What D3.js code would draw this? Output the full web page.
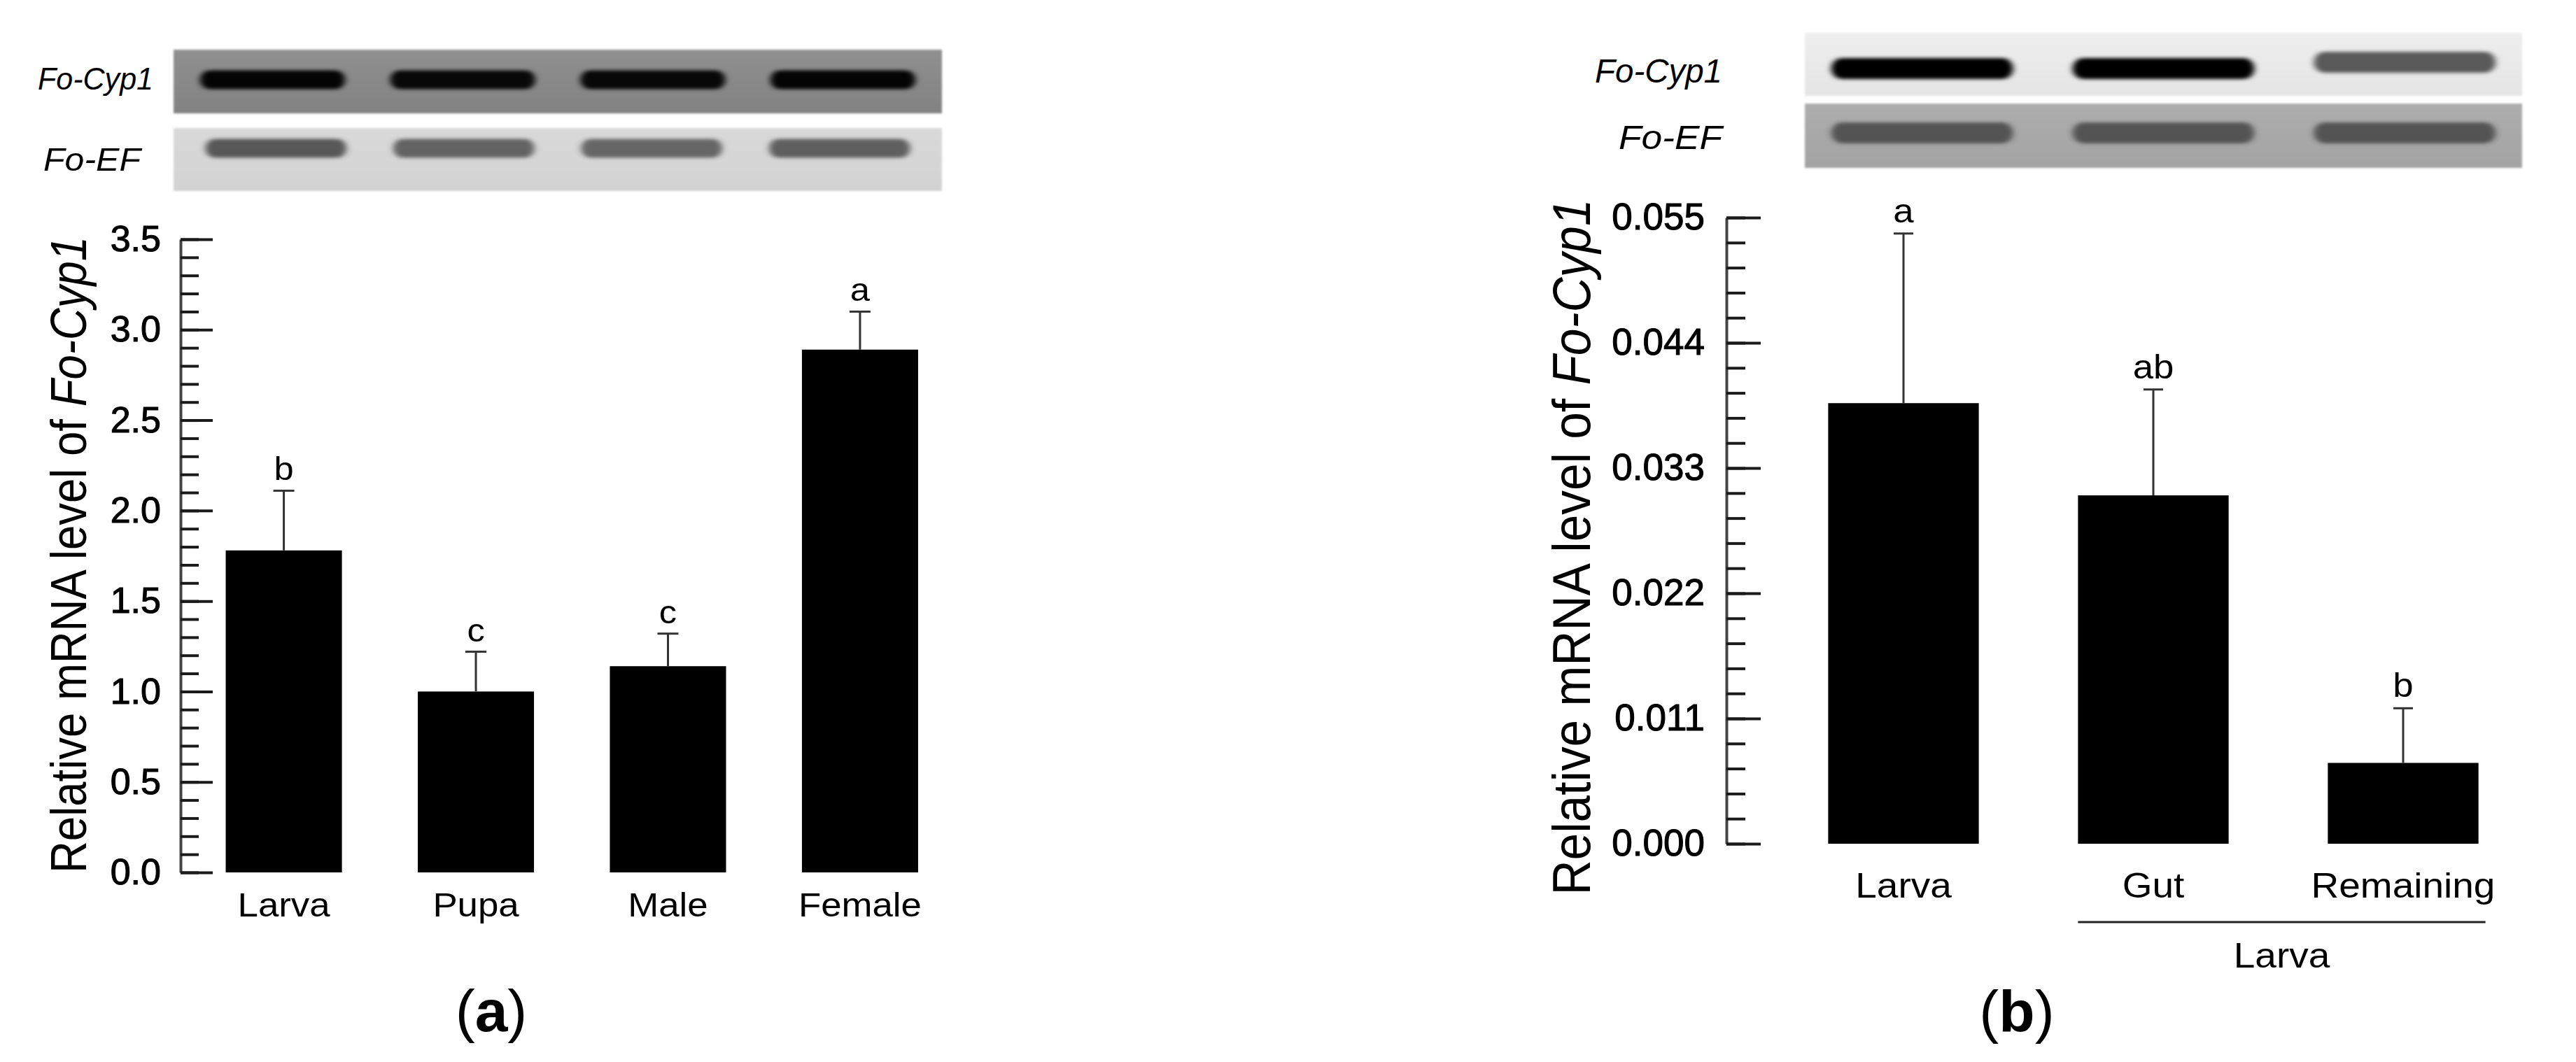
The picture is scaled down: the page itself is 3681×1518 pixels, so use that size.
<!DOCTYPE html>
<html>
<head>
<meta charset="utf-8">
<script src="https://cdn.jsdelivr.net/npm/d3@7"></script>
<style>
  html, body { margin: 0; padding: 0; background: #fff; }
  svg { display: block; }
  text { font-family: "Liberation Sans", Arial, sans-serif; fill: #000; }
</style>
</head>
<body>
<svg id="chart" width="3681" height="1518"></svg>
<script>
// ---------------- DATA ----------------
const categoriesA = ["Larva", "Pupa", "Male", "Female"];
const valuesA = [1.78, 1.00, 1.14, 2.89];
const errorsA = [0.33, 0.22, 0.18, 0.21];
const lettersA = ["b", "c", "c", "a"];
const tickValuesA = [0, 0.5, 1.0, 1.5, 2.0, 2.5, 3.0, 3.5];
const tickLabelsA = ["0.0", "0.5", "1.0", "1.5", "2.0", "2.5", "3.0", "3.5"];

const categoriesB = ["Larva", "Gut", "Remaining"];
const valuesB = [0.0387, 0.0306, 0.0071];
const errorsB = [0.0149, 0.0093, 0.0048];
const lettersB = ["a", "ab", "b"];
const tickValuesB = [0, 0.011, 0.022, 0.033, 0.044, 0.055];
const tickLabelsB = ["0.000", "0.011", "0.022", "0.033", "0.044", "0.055"];
const groupLabelB = "Larva";

// gel band intensities (0..1 darkness), per lane
const cypBandsA = [0.97, 0.94, 0.94, 0.97];
const efBandsA = [0.80, 0.74, 0.72, 0.76];
const cypBandsB = [1.0, 1.0, 0.62];
const efBandsB = [0.72, 0.72, 0.72];

const svg = d3.select("#chart");
const defs = svg.append("defs");
defs.append("filter").attr("id", "blur").attr("x", "-20%").attr("y", "-100%").attr("width", "140%").attr("height", "300%")
  .append("feGaussianBlur").attr("stdDeviation", "5 2.5");
defs.append("filter").attr("id", "blur2").attr("x", "-20%").attr("y", "-50%").attr("width", "140%").attr("height", "200%")
  .append("feGaussianBlur").attr("stdDeviation", "1.5");

const SX = 1.1; // horizontal stretch of the original figure text

function stretchedText(g, x, y, str, size, anchor) {
  return g.append("text")
    .attr("transform", `translate(${x},${y}) scale(${SX},1)`)
    .attr("text-anchor", anchor || "middle")
    .attr("font-size", size)
    .text(str);
}

// ---------------- GEL ----------------
function drawGel(g, lanes, x0, x1, y0, y1, bg, bgTop, intens, bandColor, bandY, bandH, padIn, padOut, bandDy) {
  const gid = "g" + Math.round(x0) + "_" + Math.round(y0);
  const grad = defs.append("linearGradient").attr("id", gid).attr("x1", 0).attr("x2", 0).attr("y1", 0).attr("y2", 1);
  grad.append("stop").attr("offset", "0%").attr("stop-color", bgTop);
  grad.append("stop").attr("offset", "100%").attr("stop-color", bg);
  g.append("rect").attr("x", x0).attr("y", y0).attr("width", x1 - x0).attr("height", y1 - y0)
    .attr("fill", `url(#${gid})`).attr("filter", "url(#blur2)");
  const lx = d3.scaleBand().domain(lanes).range([x0, x1]).paddingInner(padIn).paddingOuter(padOut);
  g.selectAll(null).data(lanes).join("rect")
    .attr("x", d => lx(d))
    .attr("y", (d, i) => bandY - bandH / 2 + (bandDy ? bandDy[i] : 0))
    .attr("width", lx.bandwidth())
    .attr("height", bandH)
    .attr("rx", bandH / 2)
    .attr("fill", bandColor)
    .attr("fill-opacity", (d, i) => intens[i])
    .attr("filter", "url(#blur)");
}

// ---------------- PANEL A ----------------
const gA = svg.append("g");
const yA = d3.scaleLinear().domain([0, 3.5]).range([1247, 342]);
const xA = d3.scaleBand().domain(categoriesA).range([257.5, 1377]).paddingInner(0.395).paddingOuter(0.237);

drawGel(gA, categoriesA, 248, 1346, 71, 162, "#828282", "#8f8f8f", cypBandsA, "#050505", 114, 27, 0.238, 0.14);
drawGel(gA, categoriesA, 248, 1346, 183, 273, "#d2d2d2", "#d9d9d9", efBandsA, "#3a3a3a", 212, 27, 0.25, 0.17);
gA.append("text").attr("x", 54).attr("y", 128).attr("font-size", 44).attr("font-style", "italic")
  .attr("textLength", 165).attr("lengthAdjust", "spacingAndGlyphs").text("Fo-Cyp1");
gA.append("text").attr("x", 62).attr("y", 244).attr("font-size", 47).attr("font-style", "italic")
  .attr("textLength", 139).attr("lengthAdjust", "spacingAndGlyphs").text("Fo-EF");

const axA = gA.append("g").attr("transform", "translate(258,0)");
axA.call(d3.axisRight(yA).tickValues(d3.range(0, 3.5001, 0.1)).tickSize(26).tickSizeOuter(0).tickFormat(""));
axA.selectAll(".tick line").attr("stroke", "#1a1a1a").attr("stroke-width", 4);
axA.select(".domain").attr("stroke", "#444").attr("stroke-width", 4);
const axA2 = gA.append("g").attr("transform", "translate(258,0)");
axA2.call(d3.axisRight(yA).tickValues(tickValuesA).tickSize(46).tickSizeOuter(0).tickFormat(""));
axA2.select(".domain").remove();
axA2.selectAll(".tick line").attr("stroke", "#1a1a1a").attr("stroke-width", 4);
const axA3 = gA.append("g").attr("transform", "translate(258,0)");
axA3.call(d3.axisLeft(yA).tickValues(tickValuesA).tickSize(0).tickPadding(28)
  .tickFormat((d, i) => tickLabelsA[i]));
axA3.select(".domain").remove();
axA3.selectAll("text").attr("font-size", 52).attr("font-family", "'Liberation Sans', Arial, sans-serif")
  .attr("fill", "#000").attr("stroke", "#000").attr("stroke-width", 1.1);

const tA = gA.append("text")
  .attr("transform", "translate(123,793) rotate(-90)")
  .attr("text-anchor", "middle").attr("font-size", 72)
  .attr("font-family", "'Liberation Sans Narrow', 'Arial Narrow', 'Liberation Sans', Arial, sans-serif")
  .attr("textLength", 910).attr("lengthAdjust", "spacingAndGlyphs");
tA.append("tspan").text("Relative mRNA level of ");
tA.append("tspan").attr("font-style", "italic").text("Fo-Cyp1");

gA.selectAll(".barA").data(categoriesA).join("rect").attr("class", "barA")
  .attr("x", d => xA(d)).attr("width", xA.bandwidth())
  .attr("y", (d, i) => yA(valuesA[i])).attr("height", (d, i) => yA(0) - yA(valuesA[i]))
  .attr("fill", "#000");
categoriesA.forEach((c, i) => {
  const cx = xA(c) + xA.bandwidth() / 2;
  const top = yA(valuesA[i] + errorsA[i]);
  gA.append("line").attr("x1", cx).attr("x2", cx).attr("y1", yA(valuesA[i])).attr("y2", top)
    .attr("stroke", "#333").attr("stroke-width", 3);
  gA.append("line").attr("x1", cx - 15).attr("x2", cx + 15).attr("y1", top).attr("y2", top)
    .attr("stroke", "#333").attr("stroke-width", 3);
  stretchedText(gA, cx, top - 15, lettersA[i], 46);
  stretchedText(gA, cx, 1310, c, 48);
});

gA.append("text").attr("x", 702).attr("y", 1474).attr("text-anchor", "middle").attr("font-size", 84)
  .attr("font-family", "'Liberation Serif', 'Times New Roman', serif")
  .call(t => { t.append("tspan").text("("); t.append("tspan").attr("font-weight", "bold").text("a"); t.append("tspan").text(")"); });

// ---------------- PANEL B ----------------
const gB = svg.append("g");
const yB = d3.scaleLinear().domain([0, 0.055]).range([1206, 311]);
const xB = d3.scaleBand().domain(categoriesB).range([2466, 3688]).paddingInner(0.397).paddingOuter(0.41);

drawGel(gB, categoriesB, 2579, 3604, 47, 137, "#e4e4e4", "#eeeeee", cypBandsB, "#000", 98, 30, 0.247, 0.11, [0, 0, -9]);
drawGel(gB, categoriesB, 2579, 3604, 148, 240, "#a3a3a3", "#adadad", efBandsB, "#303030", 190, 30, 0.247, 0.11);
gB.append("text").attr("x", 2279).attr("y", 118).attr("font-size", 48).attr("font-style", "italic")
  .attr("textLength", 182).attr("lengthAdjust", "spacingAndGlyphs").text("Fo-Cyp1");
gB.append("text").attr("x", 2313).attr("y", 213).attr("font-size", 49).attr("font-style", "italic")
  .attr("textLength", 148).attr("lengthAdjust", "spacingAndGlyphs").text("Fo-EF");

const axB = gB.append("g").attr("transform", "translate(2467,0)");
axB.call(d3.axisRight(yB).tickValues(d3.range(0, 0.05501, 0.0022)).tickSize(27).tickSizeOuter(0).tickFormat(""));
axB.selectAll(".tick line").attr("stroke", "#1a1a1a").attr("stroke-width", 4);
axB.select(".domain").attr("stroke", "#444").attr("stroke-width", 4);
const axB2 = gB.append("g").attr("transform", "translate(2467,0)");
axB2.call(d3.axisRight(yB).tickValues(tickValuesB).tickSize(49).tickSizeOuter(0).tickFormat(""));
axB2.select(".domain").remove();
axB2.selectAll(".tick line").attr("stroke", "#1a1a1a").attr("stroke-width", 4);
const axB3 = gB.append("g").attr("transform", "translate(2467,0)");
axB3.call(d3.axisLeft(yB).tickValues(tickValuesB).tickSize(0).tickPadding(31)
  .tickFormat((d, i) => tickLabelsB[i]));
axB3.select(".domain").remove();
axB3.selectAll("text").attr("font-size", 53).attr("font-family", "'Liberation Sans', Arial, sans-serif")
  .attr("fill", "#000").attr("stroke", "#000").attr("stroke-width", 1.1);

const tB = gB.append("text")
  .attr("transform", "translate(2272,782) rotate(-90)")
  .attr("text-anchor", "middle").attr("font-size", 76)
  .attr("font-family", "'Liberation Sans Narrow', 'Arial Narrow', 'Liberation Sans', Arial, sans-serif")
  .attr("textLength", 995).attr("lengthAdjust", "spacingAndGlyphs");
tB.append("tspan").text("Relative mRNA level of ");
tB.append("tspan").attr("font-style", "italic").text("Fo-Cyp1");

gB.selectAll(".barB").data(categoriesB).join("rect").attr("class", "barB")
  .attr("x", d => xB(d)).attr("width", xB.bandwidth())
  .attr("y", (d, i) => yB(valuesB[i])).attr("height", (d, i) => yB(0) - yB(valuesB[i]))
  .attr("fill", "#000");
categoriesB.forEach((c, i) => {
  const cx = xB(c) + xB.bandwidth() / 2;
  const top = yB(valuesB[i] + errorsB[i]);
  gB.append("line").attr("x1", cx).attr("x2", cx).attr("y1", yB(valuesB[i])).attr("y2", top)
    .attr("stroke", "#333").attr("stroke-width", 3);
  gB.append("line").attr("x1", cx - 14).attr("x2", cx + 14).attr("y1", top).attr("y2", top)
    .attr("stroke", "#333").attr("stroke-width", 3);
  stretchedText(gB, cx, top - 16, lettersB[i], 48);
  stretchedText(gB, cx, 1283, c, 50);
});
const bx0 = xB("Gut"), bx1 = xB("Remaining") + xB.bandwidth() + 10;
gB.append("line").attr("x1", bx0).attr("x2", bx1).attr("y1", 1318).attr("y2", 1318)
  .attr("stroke", "#222").attr("stroke-width", 3);
stretchedText(gB, (bx0 + bx1) / 2, 1383, groupLabelB, 50);

gB.append("text").attr("x", 2882).attr("y", 1475).attr("text-anchor", "middle").attr("font-size", 84)
  .attr("font-family", "'Liberation Serif', 'Times New Roman', serif")
  .call(t => { t.append("tspan").text("("); t.append("tspan").attr("font-weight", "bold").text("b"); t.append("tspan").text(")"); });
</script>
</body>
</html>
